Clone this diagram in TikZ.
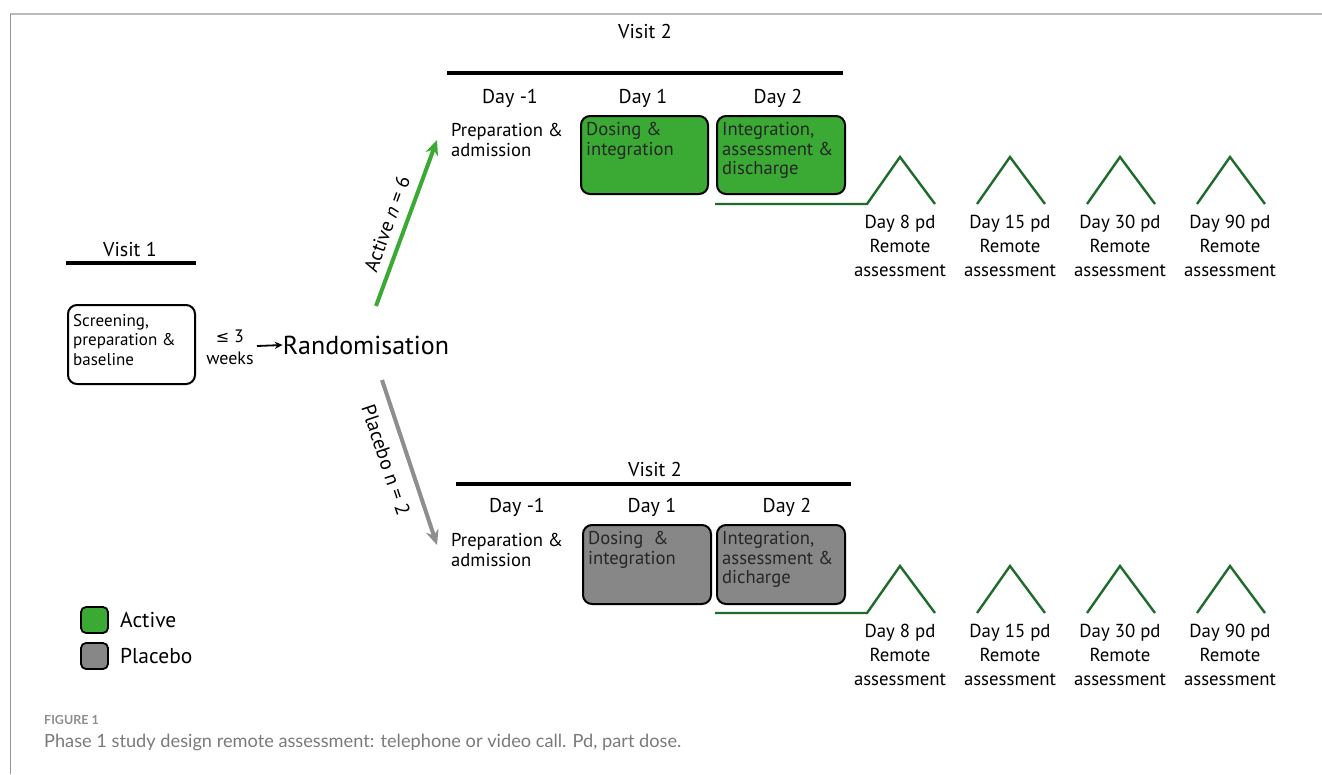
\documentclass[tikz,border=0pt]{standalone}
\usepackage{fontspec}
\setmainfont{PT Sans}
\newfontfamily\capfont{Lato}
\newfontfamily\symfont{DejaVu Sans}
\usetikzlibrary{arrows.meta}
\definecolor{actgreen}{HTML}{3AAA35}
\definecolor{plgray}{HTML}{878787}
\definecolor{arrgray}{HTML}{8E8E8E}
\definecolor{tlgreen}{HTML}{1F6B2C}
\definecolor{capgray}{HTML}{7A7A7A}
\definecolor{framegray}{HTML}{BBBBBB}
\tikzset{
  txt/.style={font=\fontsize{17}{19.5}\selectfont, align=left, inner sep=0pt, text=black},
  btxt/.style={font=\fontsize{18.6}{19.7}\selectfont, align=left, inner sep=0pt, text=black!85},
  daylbl/.style={font=\fontsize{20}{22}\selectfont, inner sep=0pt},
  visitlbl/.style={font=\fontsize{20}{22}\selectfont, inner sep=0pt},
  bar/.style={line width=4pt},
  stagebox/.style={draw=black, line width=2pt, rounded corners=9pt, inner sep=0pt},
  remote/.style={font=\fontsize{18.8}{24}\selectfont, align=center, inner sep=0pt},
  timeline/.style={draw=tlgreen, line width=2.4pt, line join=miter},
  legbox/.style={draw=black, line width=1.8pt, rounded corners=5pt, minimum width=27pt, minimum height=26pt, inner sep=0pt},
}
\begin{document}
\begin{tikzpicture}[x=1pt,y=-1pt]
\useasboundingbox (0,0) rectangle (1322,774);
% frame
\draw[framegray, line width=2pt] (10,14) -- (1322,14);
\draw[framegray!80!black, line width=1pt] (10,14) -- (10,774);

% ---------- Visit 1 ----------
\node[visitlbl] (v1) at (130,249) {Visit 1};
\coordinate (v1l) at (66,263); \coordinate (v1r) at (196,263);
\draw[bar] (v1l) -- (v1r);
\node[stagebox, minimum width=127pt, minimum height=79pt, anchor=north west] (scr) at (67,304) {};
\node[txt, anchor=north west] (scrt) at (73,314) {Screening,\\preparation \&\\baseline};
\node[txt, align=center, font=\fontsize{18}{22}\selectfont] (wk) at (230,347) {{\symfont\fontsize{16}{18}\selectfont ≤} 3\\weeks};
\node[inner sep=0pt, font=\fontsize{26}{28}\selectfont] (rand) at (366,345) {Randomisation};
\draw[-{Stealth[length=8pt,width=7pt]}, line width=1.8pt] (257,346) -- (rand.west);

% arrows to branches
\coordinate (aS) at (376,306); \coordinate (aE) at (437,140);
\coordinate (pS) at (382,380); \coordinate (pE) at (437,545);
\draw[actgreen, line width=4pt, -{Stealth[length=15pt,width=13pt]}] (aS) -- (aE);
\draw[arrgray, line width=4pt, -{Stealth[length=15pt,width=13pt]}] (pS) -- (pE);
\node[rotate=70, font=\fontsize{20}{22}\selectfont, inner sep=0pt] (alab) at (387,224) {Active \textit{n} = 6};
\node[rotate=-71.5, font=\fontsize{20}{22}\selectfont, inner sep=0pt] (plab) at (386,460) {Placebo n = 2};

% ---------- Active branch ----------
\node[visitlbl] (v2a) at (645,31) {Visit 2};
\coordinate (b2al) at (447,73); \coordinate (b2ar) at (843,73);
\draw[bar] (b2al) -- (b2ar);
\node[daylbl] (dma) at (510,98) {Day -1};
\node[daylbl] (d1a) at (643,98) {Day 1};
\node[daylbl] (d2a) at (778,98) {Day 2};
\node[btxt, text=black, anchor=west] (prepa) at (451,140) {Preparation \&\\admission};
\node[stagebox, fill=actgreen, minimum width=127pt, minimum height=78pt, anchor=north west] (dosa) at (580,115) {};
\node[stagebox, fill=actgreen, minimum width=128pt, minimum height=78pt, anchor=north west] (inta) at (716,115) {};
\node[btxt, anchor=north west] (dosat) at (586,122) {Dosing \&\\integration};
\node[btxt, anchor=north west] (intat) at (722,122) {Integration,\\assessment \&\\discharge};
\coordinate (tla) at (715,204);
\draw[timeline] (tla) -- (867,204) -- (900,157) -- (935,204);
\draw[timeline] (977,204) -- (1010,157) -- (1045,204);
\draw[timeline] (1087,204) -- (1120,157) -- (1155,204);
\draw[timeline] (1197,204) -- (1230,157) -- (1265,204);
\node[remote] (ra1) at (900,246) {Day 8 pd\\Remote\\assessment};
\node[remote] (ra2) at (1010,246) {Day 15 pd\\Remote\\assessment};
\node[remote] (ra3) at (1120,246) {Day 30 pd\\Remote\\assessment};
\node[remote] (ra4) at (1230,246) {Day 90 pd\\Remote\\assessment};

% ---------- Placebo branch ----------
\node[visitlbl] (v2p) at (655,469) {Visit 2};
\coordinate (b2pl) at (456,484); \coordinate (b2pr) at (851,484);
\draw[bar] (b2pl) -- (b2pr);
\node[daylbl] (dmp) at (517,507) {Day -1};
\node[daylbl] (d1p) at (652,507) {Day 1};
\node[daylbl] (d2p) at (787,507) {Day 2};
\node[btxt, text=black, anchor=west] (prepp) at (451,550) {Preparation \&\\admission};
\node[stagebox, fill=plgray, minimum width=128pt, minimum height=79pt, anchor=north west] (dosp) at (582,524) {};
\node[stagebox, fill=plgray, minimum width=128pt, minimum height=79pt, anchor=north west] (intp) at (716,524) {};
\node[btxt, anchor=north west] (dospt) at (588,531) {Dosing\ \ \&\\integration};
\node[btxt, anchor=north west] (intpt) at (722,531) {Integration,\\assessment \&\\dicharge};
\coordinate (tlp) at (715,613);
\draw[timeline] (tlp) -- (867,613) -- (900,566) -- (935,613);
\draw[timeline] (977,613) -- (1010,566) -- (1045,613);
\draw[timeline] (1087,613) -- (1120,566) -- (1155,613);
\draw[timeline] (1197,613) -- (1230,566) -- (1265,613);
\node[remote] (rp1) at (900,655) {Day 8 pd\\Remote\\assessment};
\node[remote] (rp2) at (1010,655) {Day 15 pd\\Remote\\assessment};
\node[remote] (rp3) at (1120,655) {Day 30 pd\\Remote\\assessment};
\node[remote] (rp4) at (1230,655) {Day 90 pd\\Remote\\assessment};

% ---------- Legend ----------
\node[legbox, fill=actgreen] (lga) at (94.5,620) {};
\node[legbox, fill=plgray] (lgp) at (94.5,656) {};
\node[daylbl, anchor=west, font=\fontsize{21.5}{23}\selectfont] (lgat) at (120,620) {Active};
\node[daylbl, anchor=west, font=\fontsize{21.5}{23}\selectfont] (lgpt) at (120,656) {Placebo};

% ---------- Caption ----------
\node[anchor=west, inner sep=0pt, text=capgray!85, font=\capfont\bfseries\fontsize{12.5}{14}\selectfont] (figl) at (44,720) {FIGURE 1};
\node[anchor=west, inner sep=0pt, text=capgray, font=\capfont\fontsize{18.2}{20}\selectfont] (cap) at (44,742) {Phase 1 study design remote assessment: telephone or video call. Pd, part dose.};
\end{tikzpicture}
\end{document}
